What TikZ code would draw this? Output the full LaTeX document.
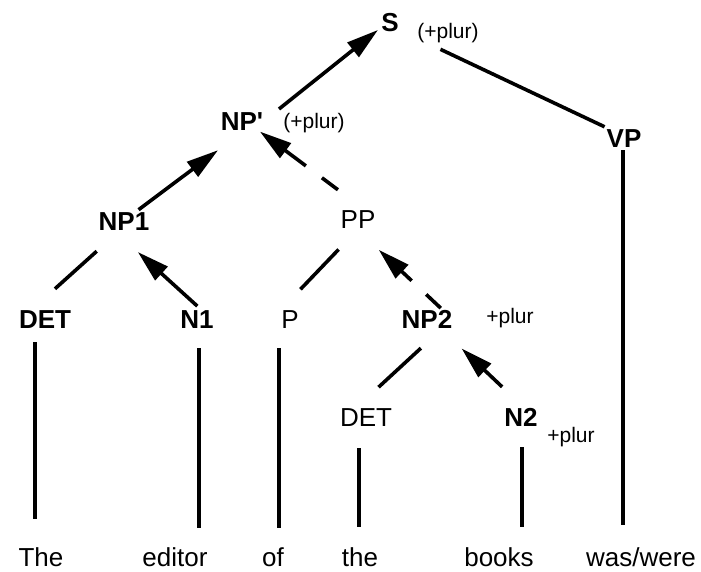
\documentclass[tikz,border=0pt]{standalone}
\usepackage{fontspec}
\setmainfont{Liberation Sans}
\usetikzlibrary{calc}
\usetikzlibrary{arrows.meta}
\tikzstyle{catnode} = [inner sep=0, text height=18.6pt, text depth=0pt, font=\fontsize{26}{30}\selectfont\bfseries]
\tikzstyle{plainnode} = [inner sep=0, text height=18.6pt, text depth=0pt, font=\fontsize{26}{30}\selectfont]
\tikzstyle{plurnode} = [inner sep=0, anchor=base, font=\fontsize{21}{25}\selectfont]
\tikzstyle{branch} = [line width=3.6pt]
\tikzstyle{headarrow} = [branch, -{Triangle[length=32pt,width=18pt]}]
\tikzstyle{dashbranch} = [dash pattern=on 20pt off 20pt on 60pt]

\begin{document}
\begin{tikzpicture}[x=1pt, y=-1pt]
    \useasboundingbox (0,0) rectangle (701,571);

    \node[catnode] (s_top) at (390,22.5) {S};
    \node[plurnode] (s_plur) at ($(s_top)+(58,15.5)$) {(+plur)};
    \node[catnode] (np_prime) at (242,121.5) {NP\textquotesingle};
    \node[plurnode] (np_prime_plur) at ($(np_prime)+(72,6.5)$) {(+plur)};
    \node[catnode] (vp) at (624,138) {VP};
    \node[catnode] (np_one) at (124,221) {NP1};
    \node[plainnode] (pp) at (358,219) {PP};
    \node[catnode] (det_one) at (45,319) {DET};
    \node[catnode] (n_one) at (197,319) {N1};
    \node[plainnode] (p) at (290,319) {P};
    \node[catnode] (np_two) at (427,319) {NP2};
    \node[plurnode] (np_two_plur) at ($(np_two)+(83,4)$) {+plur};
    \node[plainnode] (det_two) at (366,417) {DET};
    \node[catnode] (n_two) at (521,417) {N2};
    \node[plurnode] (n_two_plur) at ($(n_two)+(50,25)$) {+plur};

    \node[plainnode] (w_the) at (41,557) {The};
    \node[plainnode] (w_editor) at (175,557) {editor};
    \node[plainnode] (w_of) at (273,557) {of};
    \node[plainnode] (w_the_two) at (360,557) {the};
    \node[plainnode] (w_books) at (499,557) {books};
    \node[plainnode] (w_was) at (641,557) {was/were};

    \draw[headarrow, shorten <=20pt, shorten >=4pt] (np_prime.0) -- (s_top.209);
    \draw[branch, shorten <=46pt, shorten >=4pt] (s_top.321) -- (vp.149);
    \draw[headarrow, shorten <=3pt, shorten >=32pt] (np_one.38) -- (np_prime.280);
    \draw[headarrow, dashbranch, shorten <=33pt, shorten >=1pt] (pp.56) -- (np_prime.331);
    \draw[branch, shorten <=31pt, shorten >=31pt] (np_one.246) -- (det_one.144);
    \draw[headarrow, shorten <=5pt, shorten >=32pt] (n_one.67) -- (np_one.224);
    \draw[branch, shorten <=29pt, shorten >=28pt] (pp.274) -- (p.north west);
    \draw[headarrow, dashbranch, shorten <=2pt, shorten >=31pt] (np_two.32) -- (pp.259);
    \draw[branch, shorten <=29pt, shorten >=30pt] (np_two.328) -- (det_two.135);
    \draw[headarrow, shorten <=30pt, shorten >=29pt] (n_two.73) -- (np_two.325);

    \draw[branch, shorten <=13.7pt, shorten >=28.7pt] ([xshift=-10pt]det_one.south) -- ([xshift=-10pt]det_one.south |- w_the.north);
    \draw[branch, shorten <=19.7pt, shorten >=19.7pt] ([xshift=2pt]n_one.south) -- ([xshift=2pt]n_one.south |- w_editor.north);
    \draw[branch, shorten <=19.7pt, shorten >=19.7pt] ([xshift=-11pt]p.south) -- ([xshift=-11pt]p.south |- w_of.north);
    \draw[branch, shorten <=21.7pt, shorten >=20.7pt] ([xshift=-7pt]det_two.south) -- ([xshift=-7pt]det_two.south |- w_the_two.north);
    \draw[branch, shorten <=20.7pt, shorten >=20.7pt] ([xshift=1pt]n_two.south) -- ([xshift=1pt]n_two.south |- w_books.north);
    \draw[branch, shorten <=2.7pt, shorten >=22.7pt] ([xshift=-1pt]vp.south) -- ([xshift=-1pt]vp.south |- w_was.north);
\end{tikzpicture}
\end{document}
